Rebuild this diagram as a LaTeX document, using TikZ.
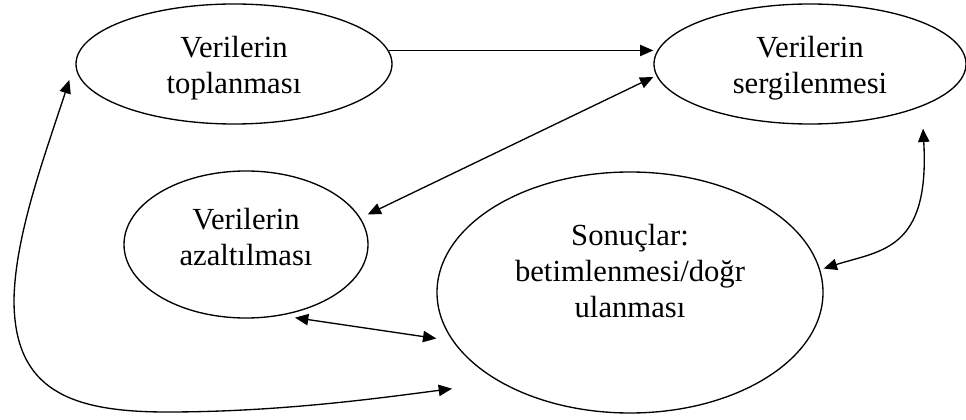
\documentclass[tikz,border=0pt]{standalone}
\usepackage{fontspec}
\setmainfont{Liberation Serif}
\usetikzlibrary{arrows.meta,calc,shapes.geometric}
\begin{document}
\begin{tikzpicture}[x=0.75pt,y=-0.75pt,
  oval/.style={draw,ellipse,line width=1pt,inner sep=0pt},
  lbl/.style={align=center,font=\fontsize{23}{27}\selectfont,inner sep=0pt},
  tip/.tip={Triangle[length=10pt,width=8.5pt]},
  con/.style={line width=1pt,-tip},
  bicon/.style={line width=1pt,tip-tip}]
\useasboundingbox (0,0) rectangle (966,420);
\node[oval,minimum width=237pt,minimum height=90pt] (e1) at (234,64) {};
\node[oval,minimum width=234pt,minimum height=90pt] (e2) at (810,64) {};
\node[oval,minimum width=183pt,minimum height=110.25pt] (e3) at (246,244.5) {};
\node[oval,minimum width=289.5pt,minimum height=180.75pt] (e4) at (630,292.5) {};
\node[lbl] (t1) at ($(e1.center)+(0,4.5)$) {Verilerin\\toplanması};
\node[lbl] (t2) at ($(e2.center)+(0,4.5)$) {Verilerin\\sergilenmesi};
\node[lbl] (t3) at ($(e3.center)+(0,-7)$) {Verilerin\\azaltılması};
\node[lbl] (t4) at ($(e4.center)+(0,-21.5)$) {Sonuçlar:\\betimlenmesi/doğr\\ulanması};
\draw[con] (e1.5) -- (e1.5 -| e2.west);
\draw[bicon] ($(e2.west)+(0,13)$) -- ($(e3.east)+(-1,-30)$);
\draw[bicon] ($(e3.south)+(49,-1)$) -- ($(e4.west)+(0,46)$);
\draw[bicon] ($(e2.south)+(113,4)$) .. controls +(7,122) and +(57,-18) .. ($(e4.east)+(0,-24)$);
\draw[bicon] ($(e4.south)+(-178,-25)$) .. controls (380,398) and (280,412) .. (167,412)
  .. controls (70,412) and (14,390) .. (14,300)
  .. controls (15,235) and (45,155) .. ($(e1.west)+(-6,16)$);
\end{tikzpicture}
\end{document}
